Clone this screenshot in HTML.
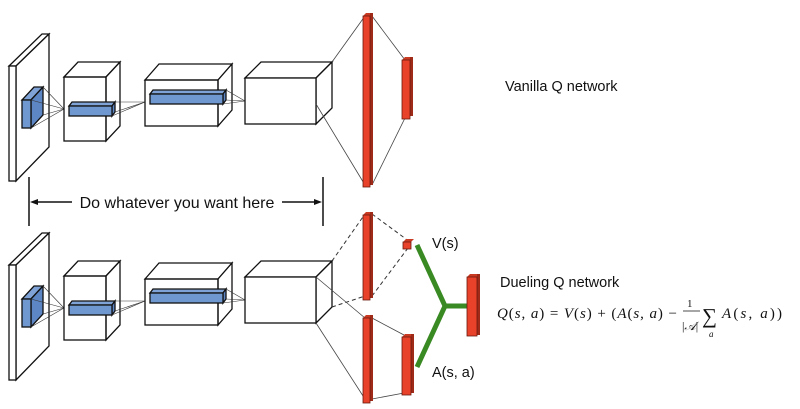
<!DOCTYPE html>
<html><head><style>body{margin:0;background:#fff}svg{display:block}</style></head><body>
<svg width="800" height="409" viewBox="0 0 800 409" xmlns="http://www.w3.org/2000/svg" font-family="Liberation Sans, sans-serif">
<defs>
<g id="conv" stroke="#111" stroke-width="1.3" fill="#fff">
  <polygon points="9,66 16,66 49,34 42,34"/>
  <polygon points="16,66 49,34 49,147 16,181"/>
  <rect x="9" y="66" width="7" height="115"/>
  <polygon points="22,100 31,100 43,87 34,87" fill="#7fa3d6"/>
  <polygon points="31,100 43,87 43,115 31,128" fill="#5d86c4"/>
  <rect x="22" y="100" width="9" height="28" fill="#6f97d0"/>
  <g stroke-width="0.6" stroke="#333"><line x1="43" y1="87" x2="64" y2="109"/><line x1="43" y1="115" x2="64" y2="109"/><line x1="31" y1="128" x2="64" y2="109"/><line x1="31" y1="100" x2="64" y2="109"/></g>
  <polygon points="64,77 78,62 120,62 106,77"/>
  <polygon points="106,77 120,62 120,126 106,141"/>
  <rect x="64" y="77" width="42" height="64" fill="none"/>
  <polygon points="69,106 72,102 115,102 112,106" fill="#7fa3d6"/>
  <polygon points="112,106 115,102 115,112 112,116" fill="#5d86c4"/>
  <rect x="69" y="106" width="43" height="10" fill="#6f97d0"/>
  <g stroke-width="0.6" stroke="#333"><line x1="115" y1="102" x2="145" y2="102"/><line x1="115" y1="112" x2="145" y2="102"/><line x1="112" y1="116" x2="145" y2="102"/></g>
  <polygon points="145,80 159,64 232,64 218,80"/>
  <polygon points="218,80 232,64 232,110 218,126"/>
  <rect x="145" y="80" width="73" height="46" fill="none"/>
  <polygon points="150,94 153,90 226,90 223,94" fill="#7fa3d6"/>
  <polygon points="223,94 226,90 226,100 223,104" fill="#5d86c4"/>
  <rect x="150" y="94" width="73" height="10" fill="#6f97d0"/>
  <g stroke-width="0.6" stroke="#333"><line x1="226" y1="90" x2="245" y2="101"/><line x1="226" y1="100" x2="245" y2="101"/><line x1="223" y1="104" x2="245" y2="101"/></g>
  <polygon points="245,78 261,62 332,62 316,78"/>
  <polygon points="316,78 332,62 332,108 316,124"/>
  <rect x="245" y="78" width="71" height="46"/>
</g>
</defs>
<use href="#conv"/>
<g stroke="#444" stroke-width="0.8"><line x1="332" y1="62" x2="365" y2="16"/><line x1="316" y1="104" x2="365" y2="185"/><line x1="372" y1="16" x2="405" y2="60"/><line x1="372" y1="185" x2="405" y2="118"/></g>
<polygon points="363,16 366,13 373,13 370,16" fill="#c93a22"/>
<rect x="370" y="13" width="3" height="172" fill="#9e2a17"/>
<rect x="363" y="16" width="7" height="171" fill="#e8432a" stroke="#6a1a0e" stroke-width="0.8"/>
<polygon points="402,60 405,57 413,57 410,60" fill="#c93a22"/>
<rect x="410" y="57" width="3" height="59" fill="#9e2a17"/>
<rect x="402" y="60" width="8" height="59" fill="#e8432a" stroke="#6a1a0e" stroke-width="0.8"/>
<text x="505" y="91" font-size="14.5" fill="#111">Vanilla Q network</text>
<g stroke="#111" stroke-width="1.5"><line x1="29" y1="177" x2="29" y2="226"/><line x1="323" y1="177" x2="323" y2="226"/><line x1="36" y1="202" x2="72" y2="202"/><line x1="282" y1="202" x2="316" y2="202"/></g>
<polygon points="30,202 38,199 38,205" fill="#111"/><polygon points="322,202 314,199 314,205" fill="#111"/>
<text x="177" y="208" font-size="16" fill="#111" text-anchor="middle">Do whatever you want here</text>
<use href="#conv" transform="translate(0,199)"/>
<g stroke="#333" stroke-width="1" stroke-dasharray="4,3"><line x1="332" y1="261" x2="365" y2="214"/><line x1="332" y1="307" x2="365" y2="296"/><line x1="372" y1="214" x2="406" y2="239"/><line x1="372" y1="296" x2="408" y2="248"/></g>
<g stroke="#444" stroke-width="0.8"><line x1="316" y1="277" x2="365" y2="318"/><line x1="316" y1="323" x2="365" y2="399"/><line x1="372" y1="318" x2="404" y2="335"/><line x1="372" y1="399" x2="404" y2="393"/></g>
<polygon points="363,215 366,212 373,212 370,215" fill="#c93a22"/>
<rect x="370" y="212" width="3" height="86" fill="#9e2a17"/>
<rect x="363" y="215" width="7" height="85" fill="#e8432a" stroke="#6a1a0e" stroke-width="0.8"/>
<polygon points="363,318 366,315 373,315 370,318" fill="#c93a22"/>
<rect x="370" y="315" width="3" height="86" fill="#9e2a17"/>
<rect x="363" y="318" width="7" height="85" fill="#e8432a" stroke="#6a1a0e" stroke-width="0.8"/>
<polygon points="403,242 406,239 414,239 411,242" fill="#c93a22"/>
<rect x="403" y="242" width="8" height="7" fill="#e8432a" stroke="#6a1a0e" stroke-width="0.8"/>
<polygon points="402,337 405,334 414,334 411,337" fill="#c93a22"/>
<rect x="411" y="334" width="3" height="59" fill="#9e2a17"/>
<rect x="402" y="337" width="9" height="58" fill="#e8432a" stroke="#6a1a0e" stroke-width="0.8"/>
<g stroke="#3a8a24" stroke-width="5" fill="none" stroke-linejoin="miter"><polyline points="417,245 445,306 417,367"/><line x1="445" y1="306" x2="467" y2="306"/></g>
<polygon points="467,277 470,274 480,274 477,277" fill="#c93a22"/>
<rect x="477" y="274" width="3" height="61" fill="#9e2a17"/>
<rect x="467" y="277" width="10" height="59" fill="#e8432a" stroke="#6a1a0e" stroke-width="0.8"/>
<text x="432" y="248" font-size="14.5" fill="#111">V(s)</text>
<text x="432" y="377" font-size="14.5" fill="#111">A(s, a)</text>
<text x="500" y="287" font-size="14.5" fill="#111">Dueling Q network</text>
<g font-family="Liberation Serif, serif" font-size="15" fill="#111">
<text x="497" y="318" textLength="180" lengthAdjust="spacing"><tspan font-style="italic">Q</tspan>(<tspan font-style="italic">s</tspan>, <tspan font-style="italic">a</tspan>) = <tspan font-style="italic">V</tspan>(<tspan font-style="italic">s</tspan>) + (<tspan font-style="italic">A</tspan>(<tspan font-style="italic">s</tspan>, <tspan font-style="italic">a</tspan>) − </text>
<text x="687" y="307" font-size="11">1</text>
<line x1="683" y1="311" x2="700" y2="311" stroke="#111" stroke-width="0.8"/>
<text x="682" y="330" font-size="12">|<tspan font-style="italic">𝒜</tspan>|</text>
<text x="702" y="323" font-size="21">∑</text>
<text x="709" y="337" font-size="9" font-style="italic">a</text>
<text x="722" y="318" textLength="60" lengthAdjust="spacing"><tspan font-style="italic">A</tspan>(<tspan font-style="italic">s</tspan>, <tspan font-style="italic">a</tspan>))</text>
</g>
</svg>
</body></html>
